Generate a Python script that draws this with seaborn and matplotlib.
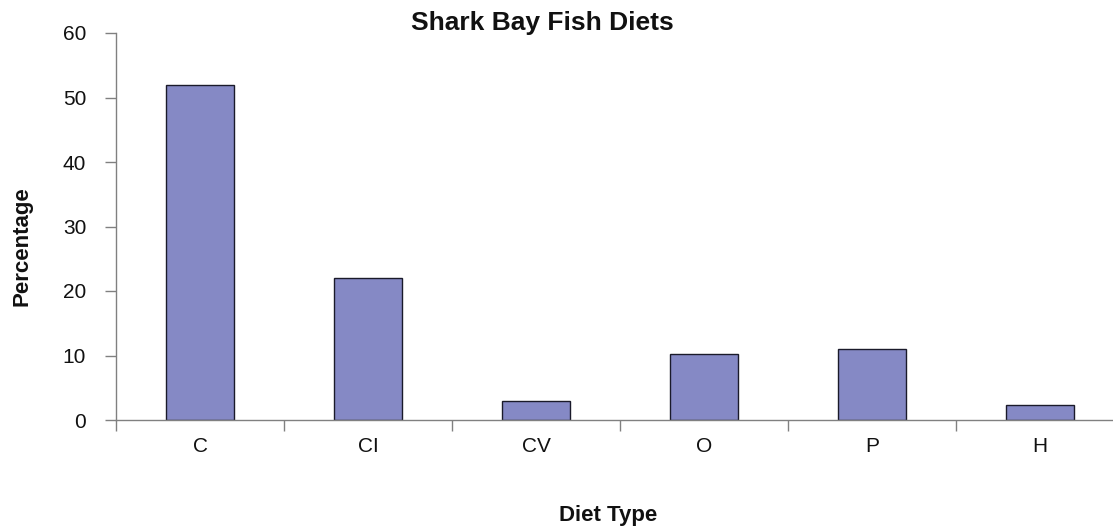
import matplotlib
matplotlib.use("Agg")
import matplotlib.pyplot as plt
import seaborn as sns
import pandas as pd
import numpy as np
from matplotlib.ticker import FixedLocator

categories = ["C", "CI", "CV", "O", "P", "H"]
values = [52, 22, 3, 10.2, 11, 2.3]

sns.set_theme(style="white")
plt.rcParams['font.family'] = ['Liberation Sans', 'DejaVu Sans']

df = pd.DataFrame({"Diet": categories, "Pct": values})

W, H = 1113, 528
fig = plt.figure(figsize=(W / 100, H / 100), dpi=100)
ax = fig.add_axes([116 / W, (H - 420) / H, 1008 / W, 387 / H])

sns.barplot(data=df, x="Diet", y="Pct", ax=ax, color="#8589C5", saturation=1,
            width=0.405, edgecolor="#1a1a2a", linewidth=1.0)

ax.set_xlim(-0.5, len(categories) - 0.5)
ax.set_ylim(0, 60)
ax.set_yticks(range(0, 61, 10))

for s in ["top", "right"]:
    ax.spines[s].set_visible(False)
for s in ["left", "bottom"]:
    ax.spines[s].set_color("#808080")
    ax.spines[s].set_linewidth(1.0)

ax.tick_params(axis="y", which="major", direction="out", length=8, width=1,
               color="#808080", pad=13.5, labelsize=15, labelcolor="#111111", left=True)
ax.tick_params(axis="x", which="major", length=0, pad=12.5, labelsize=15,
               labelcolor="#111111")
ax.xaxis.set_minor_locator(FixedLocator(np.arange(-0.5, len(categories), 1.0)))
ax.tick_params(axis="x", which="minor", direction="out", length=8, width=1,
               color="#808080", bottom=True)

ax.set_xlabel("")
ax.set_ylabel("")

fig.text(542 / W, (H - 23) / H, "Shark Bay Fish Diets", ha="center", va="center",
         fontsize=19, fontweight="bold", color="#111111")
fig.text(22.5 / W, (H - 246) / H, "Percentage", ha="center", va="center",
         rotation=90, fontsize=16, fontweight="bold", color="#111111")
fig.text(608 / W, (H - 516) / H, "Diet Type", ha="center", va="center",
         fontsize=16, fontweight="bold", color="#111111")

fig.savefig("out.png", dpi=100)
